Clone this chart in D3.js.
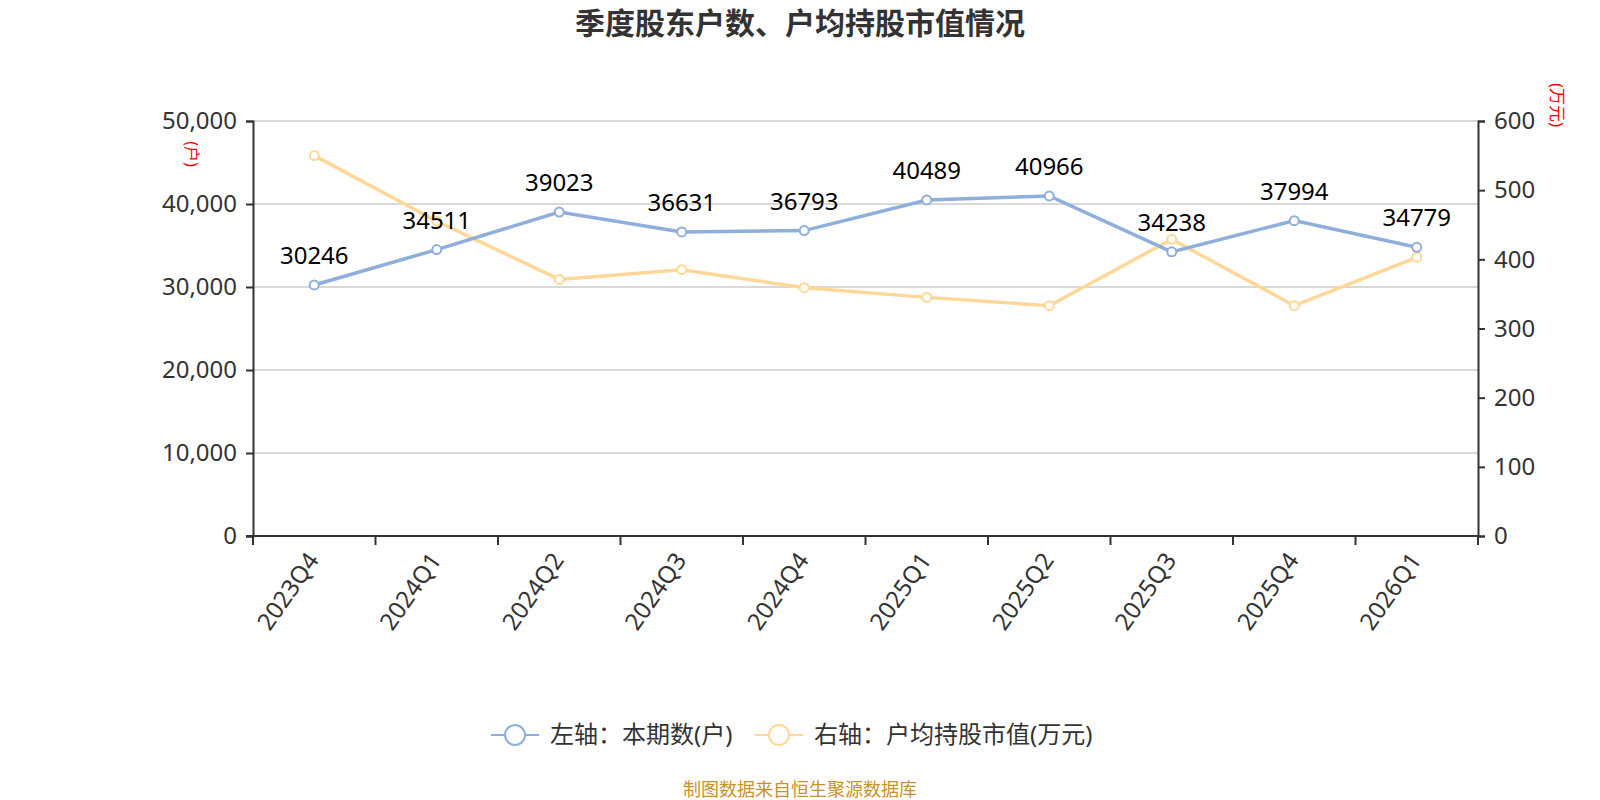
<!DOCTYPE html>
<html>
<head>
<meta charset="utf-8">
<script src="https://cdn.jsdelivr.net/npm/d3@7"></script>
<style>
body { margin: 0; background: #fff; }
text { font-family: "Noto Sans", "Noto Sans CJK SC", sans-serif; }
</style>
</head>
<body>
<script>
// data
var quarters = ["2023Q4","2024Q1","2024Q2","2024Q3","2024Q4","2025Q1","2025Q2","2025Q3","2025Q4","2026Q1"];
var holders = [30246, 34511, 39023, 36631, 36793, 40489, 40966, 34238, 37994, 34779];
var avgValue = [550, 455, 371, 385, 359, 345, 333, 429, 333, 403];
var leftTicks = [0, 10000, 20000, 30000, 40000, 50000];
var rightTicks = [0, 100, 200, 300, 400, 500, 600];
var legendNames = ["左轴：本期数(户)", "右轴：户均持股市值(万元)"];

var W = 1600, H = 800;
var plotLeft = 253, plotRight = 1478, plotTop = 121, plotBottom = 536;
var blue = "#8eaedc", yellow = "#ffd899";

var svg = d3.select("body").append("svg")
	.attr("width", W)
	.attr("height", H);

var x = d3.scaleBand()
	.domain(quarters)
	.range([plotLeft, plotRight])
	.padding(0);

var yL = d3.scaleLinear()
	.domain([0, 50000])
	.range([plotBottom, plotTop]);

var yR = d3.scaleLinear()
	.domain([0, 600])
	.range([plotBottom, plotTop]);

// title
svg.append("text")
	.attr("x", W / 2)
	.attr("y", 34)
	.attr("text-anchor", "middle")
	.attr("font-size", "30px")
	.attr("font-weight", "bold")
	.style("fill", "#333")
	.text("季度股东户数、户均持股市值情况");

// grid
svg.append("g").selectAll("line")
	.data(leftTicks.slice(1))
	.enter().append("line")
	.attr("x1", plotLeft).attr("x2", plotRight)
	.attr("y1", (d) => yL(d)).attr("y2", (d) => yL(d))
	.attr("stroke", "#ccc")
	.attr("stroke-width", 1.5);

// left axis
var leftAxis = d3.axisLeft(yL).tickValues(leftTicks).tickFormat(d3.format(",")).tickSize(7).tickPadding(9);
var gl = svg.append("g")
	.attr("transform", "translate(" + plotLeft + ",0)")
	.call(leftAxis);
gl.select(".domain").attr("stroke", "#333").attr("stroke-width", 2);
gl.selectAll(".tick line").attr("stroke", "#333").attr("stroke-width", 2);
gl.selectAll("text").attr("font-size", "24px").style("fill", "#333");

// right axis
var rightAxis = d3.axisRight(yR).tickValues(rightTicks).tickSize(7).tickPadding(9);
var gr = svg.append("g")
	.attr("transform", "translate(" + plotRight + ",0)")
	.call(rightAxis);
gr.select(".domain").attr("stroke", "#333").attr("stroke-width", 2);
gr.selectAll(".tick line").attr("stroke", "#333").attr("stroke-width", 2);
gr.selectAll("text").attr("font-size", "24px").style("fill", "#333");

// bottom axis: ticks at band edges, labels at centres
var gb = svg.append("g").attr("transform", "translate(0," + plotBottom + ")");
gb.append("line")
	.attr("x1", plotLeft - 7).attr("x2", plotRight)
	.attr("stroke", "#333").attr("stroke-width", 2);
gb.selectAll(".edge")
	.data(quarters.concat(["end"]))
	.enter().append("line")
	.attr("class", "edge")
	.attr("x1", (d, i) => plotLeft + i * x.step())
	.attr("x2", (d, i) => plotLeft + i * x.step())
	.attr("y1", 0).attr("y2", 9)
	.attr("stroke", "#333").attr("stroke-width", 2);
gb.selectAll(".lbl")
	.data(quarters)
	.enter().append("text")
	.attr("class", "lbl")
	.attr("text-anchor", "end")
	.attr("font-size", "24px")
	.style("fill", "#333")
	.attr("transform", (d) => "translate(" + (x(d) + x.bandwidth() / 2 - 9) + ",14) rotate(-55)")
	.attr("dy", "0.75em")
	.text((d) => d);

// axis names
svg.append("text")
	.attr("transform", "translate(186,154) rotate(90)")
	.attr("text-anchor", "middle")
	.attr("font-size", "16px")
	.style("fill", "red")
	.text("(户)");
svg.append("text")
	.attr("transform", "translate(1551,105) rotate(90)")
	.attr("text-anchor", "middle")
	.attr("font-size", "17px")
	.style("fill", "red")
	.text("(万元)");

var cx = (d, i) => x(quarters[i]) + x.bandwidth() / 2;

// yellow line (right axis)
svg.append("path")
	.datum(avgValue)
	.attr("fill", "none")
	.attr("stroke", yellow)
	.attr("stroke-width", 3.5)
	.attr("d", d3.line().x(cx).y((d) => yR(d)));
svg.append("g").selectAll("circle")
	.data(avgValue)
	.enter().append("circle")
	.attr("cx", cx).attr("cy", (d) => yR(d))
	.attr("r", 4.5)
	.attr("fill", "#fff").attr("stroke", yellow).attr("stroke-width", 2);

// blue line (left axis)
svg.append("path")
	.datum(holders)
	.attr("fill", "none")
	.attr("stroke", blue)
	.attr("stroke-width", 3.5)
	.attr("d", d3.line().x(cx).y((d) => yL(d)));
svg.append("g").selectAll("circle")
	.data(holders)
	.enter().append("circle")
	.attr("cx", cx).attr("cy", (d) => yL(d))
	.attr("r", 4.5)
	.attr("fill", "#fff").attr("stroke", blue).attr("stroke-width", 2);

svg.append("g").selectAll("text")
	.data(holders)
	.enter().append("text")
	.attr("x", cx)
	.attr("y", (d) => yL(d) - 21)
	.attr("text-anchor", "middle")
	.attr("font-size", "24px")
	.style("fill", "#000")
	.text((d) => d);

// legend
var legendX = [491, 755];
var legendColors = [blue, yellow];
var lg = svg.append("g").selectAll("g")
	.data(legendNames)
	.enter().append("g")
	.attr("transform", (d, i) => "translate(" + legendX[i] + ",735)");
lg.append("line")
	.attr("x1", 0).attr("x2", 48)
	.attr("stroke", (d, i) => legendColors[i]).attr("stroke-width", 2);
lg.append("circle")
	.attr("cx", 24).attr("r", 10)
	.attr("fill", "#fff")
	.attr("stroke", (d, i) => legendColors[i]).attr("stroke-width", 2);
lg.append("text")
	.attr("x", 59)
	.attr("dy", "0.35em")
	.attr("font-size", "24px")
	.style("fill", "#333")
	.text((d) => d);

// source
svg.append("text")
	.attr("x", W / 2)
	.attr("y", 796)
	.attr("text-anchor", "middle")
	.attr("font-size", "18px")
	.style("fill", "#c8912a")
	.text("制图数据来自恒生聚源数据库");
</script>
</body>
</html>
